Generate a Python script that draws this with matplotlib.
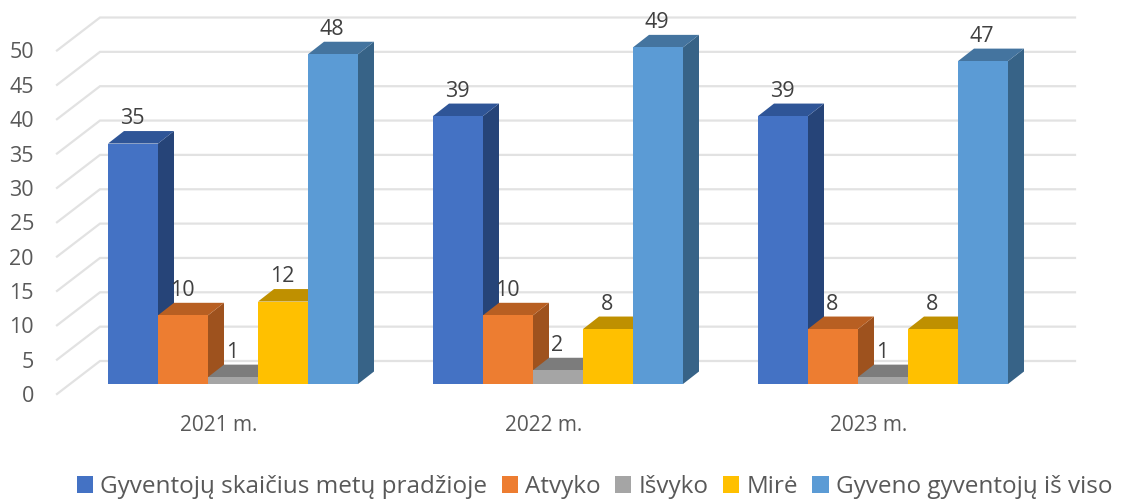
import matplotlib
matplotlib.use("Agg")
import matplotlib.pyplot as plt
from matplotlib.patches import Polygon, Patch
from matplotlib.transforms import ScaledTranslation

plt.rcParams['font.family'] = ['Open Sans', 'DejaVu Sans']

years = ["2021 m.", "2022 m.", "2023 m."]
series = ["Gyventojų skaičius metų pradžioje", "Atvyko", "Išvyko", "Mirė", "Gyveno gyventojų iš viso"]
pradzia = [35, 39, 39]
atvyko = [10, 10, 8]
isvyko = [1, 2, 1]
mire = [12, 8, 8]
viso = [48, 49, 47]
values = [pradzia, atvyko, isvyko, mire, viso]
yticks = [0, 5, 10, 15, 20, 25, 30, 35, 40, 45, 50]

front = ["#4472C4", "#ED7D31", "#A5A5A5", "#FFC000", "#5B9BD5"]
top = ["#2F5597", "#B85F22", "#7C7C7C", "#BF9000", "#44749F"]
side = ["#264478", "#9E521E", "#636363", "#997300", "#376387"]

W, H = 1126, 499
fig = plt.figure(figsize=(W / 100, H / 100), dpi=100)
L, R, B, T = 34, 1100, 384, 0
ax = fig.add_axes([L / W, (H - B) / H, (R - L) / W, (B - T) / H])
PXX, PXY = 325.0, 6.87          # pixels per group, per unit
ax.set_xlim((L - 233) / PXX, (R - 233) / PXX)
ax.set_ylim(0, (B - T) / PXY)
for s in ax.spines.values():
    s.set_visible(False)
ax.patch.set_alpha(0)

dx = lambda p: p / PXX
dy = lambda p: p / PXY
GRID = "#E2E2E2"
for v in yticks:
    yb = v + dy(384 - 361)
    yf = v + dy(384 - 394)
    xb, xf, xe = dx(100 - 233), dx(57 - 233), dx(1075 - 233)
    ax.plot([xf, xb, xe], [yf, yb, yb], color=GRID, lw=1.6, zorder=1, clip_on=False,
            solid_joinstyle="miter")

bw = dx(50)
ddx, ddy = dx(16), dy(12.5)
z = 2
for g in range(len(years)):
    for i, vals in enumerate(values):
        v = vals[g]
        x0 = g + dx(108 - 233) + i * bw
        x1 = x0 + bw
        ax.add_patch(Polygon([(x1, 0), (x1 + ddx, ddy), (x1 + ddx, v + ddy), (x1, v)],
                             fc=side[i], ec="none", zorder=z, clip_on=False))
        ax.add_patch(Polygon([(x0, v), (x1, v), (x1 + ddx, v + ddy), (x0 + ddx, v + ddy)],
                             fc=top[i], ec="none", zorder=z + 0.1, clip_on=False))
        ax.bar(x0, v, width=bw, align="edge", color=front[i], zorder=z + 0.2, clip_on=False)
        z += 1
for g in range(len(years)):
    for i, vals in enumerate(values):
        v = vals[g]
        x0 = g + dx(108 - 233) + i * bw
        ax.text(x0 + bw / 2 - dx(1), v + dy(25), str(v), ha="center", va="center",
                fontsize=15.5, color="#404040", zorder=100, clip_on=False)

ax.set_xticks(range(len(years)), years)
ax.set_yticks(yticks, [str(v) for v in yticks])
ax.tick_params(axis="both", length=0, labelsize=15.5, labelcolor="#595959")
ax.tick_params(axis="x", pad=22, labelsize=15)
ax.tick_params(axis="y", pad=0)
shift_y = ScaledTranslation(0, -10 / 100, fig.dpi_scale_trans)
shift_x = ScaledTranslation(-14 / 100, 0, fig.dpi_scale_trans)
for lab in ax.get_yticklabels():
    lab.set_transform(lab.get_transform() + shift_y)
for lab in ax.get_xticklabels():
    lab.set_transform(lab.get_transform() + shift_x)

handles = [Patch(fc=c, ec="none") for c in front]
fig.legend(handles, series, ncol=5, loc="center", bbox_to_anchor=(594.5 / W, (H - 487) / H),
           frameon=False, fontsize=17.5, labelcolor="#595959", handlelength=0.66, handleheight=0.66,
           handletextpad=0.3, columnspacing=0.6, borderpad=0, borderaxespad=0)

fig.savefig("out.png", dpi=100)
